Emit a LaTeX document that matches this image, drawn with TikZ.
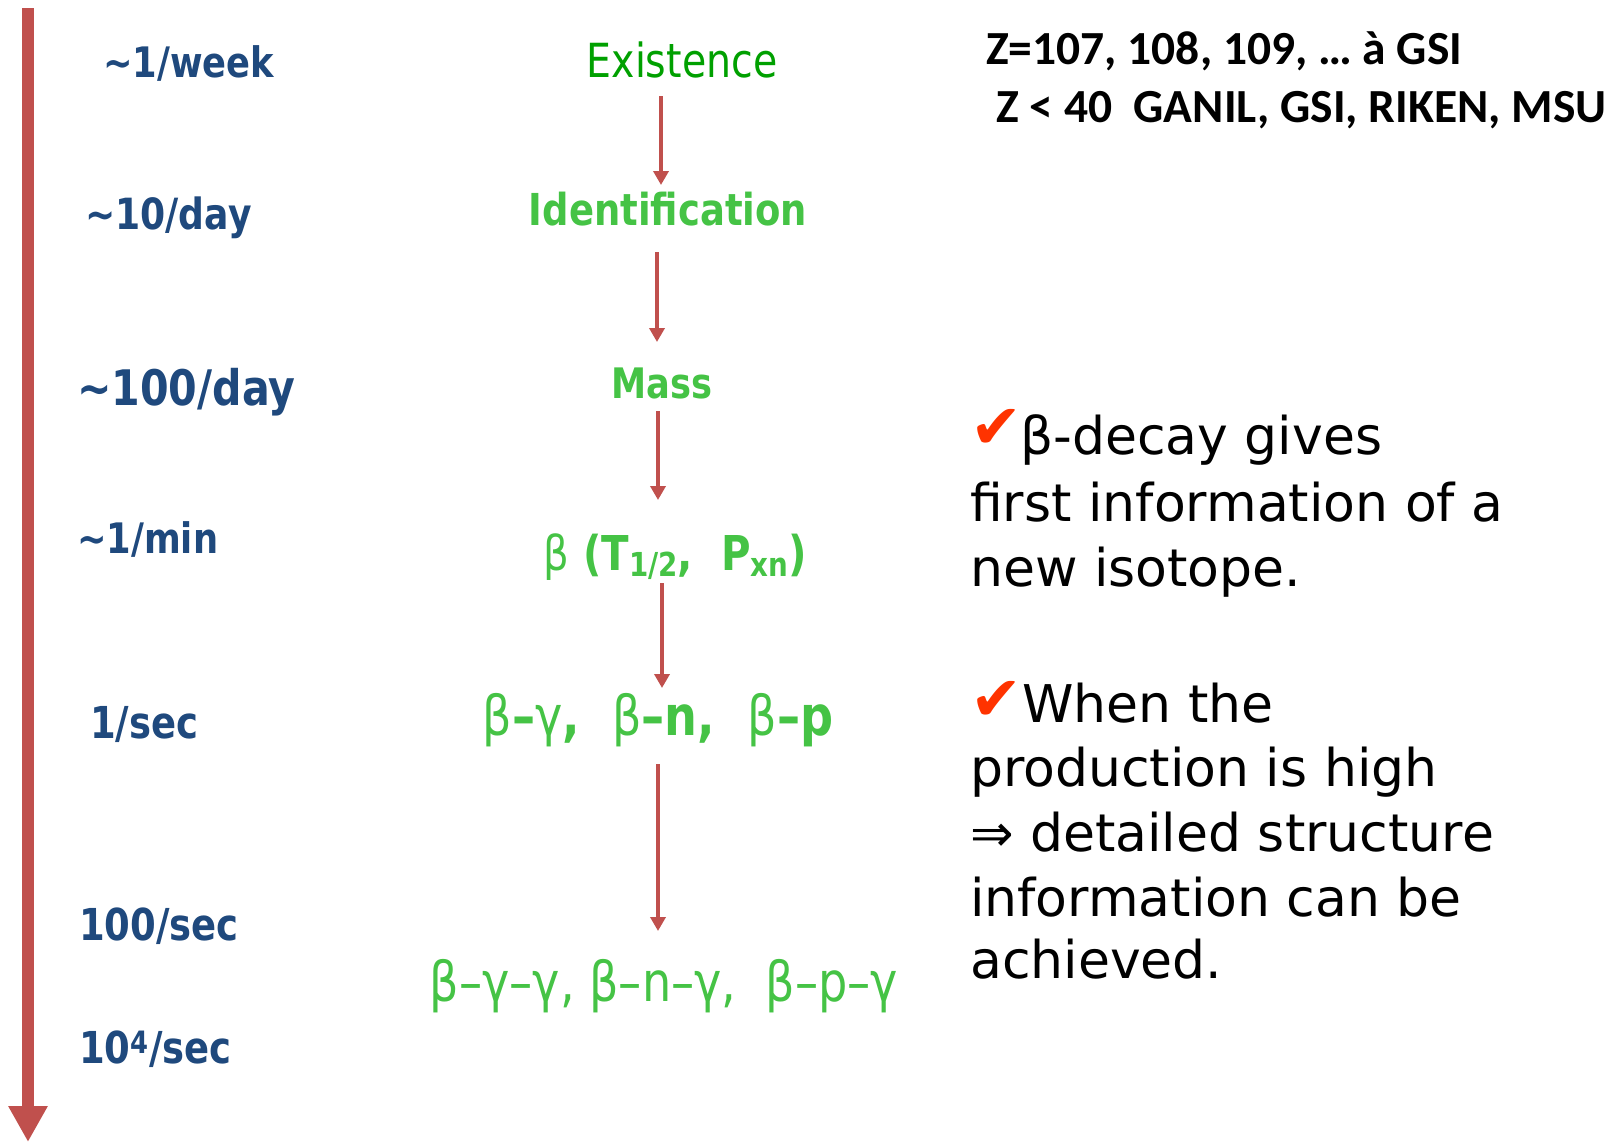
\documentclass[tikz,border=0pt]{standalone}
\usepackage{fontspec}
\usetikzlibrary{arrows.meta}
\newfontfamily\comicfont[FakeStretch=0.84]{DejaVu Sans}
\newfontfamily\comicplain{DejaVu Sans}
\newfontfamily\calib{Carlito}
\definecolor{arrred}{HTML}{C0504D}
\definecolor{lblue}{HTML}{1F497D}
\definecolor{dgreen}{HTML}{00A000}
\definecolor{lgreen}{HTML}{45C345}
\definecolor{chk}{HTML}{FF3300}
\newcommand\mysubs[1]{\raisebox{-0.14em}{\fontsize{33}{33}\selectfont #1}}
\begin{document}
\begin{tikzpicture}[x=1pt,y=-1pt,
  rate/.style={anchor=base west, inner sep=0pt, text=lblue, font=\comicfont\bfseries\fontsize{#1}{#1}\selectfont},
  stage/.style={anchor=base, inner sep=0pt, text=lgreen, font=\comicfont\bfseries\fontsize{#1}{#1}\selectfont},
  stagelight/.style={anchor=base, inner sep=0pt, text=lgreen, font=\comicfont\fontsize{#1}{#1}\selectfont},
  note/.style={anchor=base west, inner sep=0pt, font=\comicplain\fontsize{52}{60}\selectfont},
  tick/.style={anchor=base west, inner sep=0pt, text=chk, font=\comicplain\fontsize{62}{62}\selectfont},
  lab/.style={anchor=base west, inner sep=0pt, font=\calib\bfseries\fontsize{47.5}{47.5}\selectfont},
  flow/.style={draw=arrred, line width=4.5pt, -{Triangle[width=15pt,length=14pt]}}
]
\useasboundingbox (0,0) rectangle (1618,1143);

% time axis
\coordinate (axtop) at (28,8);
\coordinate (axbot) at (28,1142);
\draw[arrred, line width=12pt, -{Triangle[width=37pt,length=36pt]}] (axtop) -- (axbot);

% rates
\node[rate=42] (r1) at (103,77) {\textasciitilde1/week};
\node[rate=43] (r2) at (85,229) {\textasciitilde10/day};
\node[rate=49] (r3) at (77,405) {\textasciitilde100/day};
\node[rate=42] (r4) at (77,553) {\textasciitilde1/min};
\node[rate=44] (r5) at (90,738) {1/sec};
\node[rate=44] (r6) at (79,940) {100/sec};
\node[rate=44] (r7) at (79,1063) {10\textsuperscript{4}/sec};

% stages
\node[stagelight=47, text=dgreen] (s1) at (682,77) {Existence};
\node[stage=44] (s2) at (668,225) {Identification};
\node[stage=42] (s3) at (662,398) {Mass};
\node[stage=48] (s4) at (675,570) {{\mdseries β} (T\mysubs{1/2},\ \ P\mysubs{xn})};
\node[stage=55] (s5) at (658,735) {{\mdseries β}–{\mdseries γ},\ \ {\mdseries β}–n,\ \ {\mdseries β}–p};
\node[stagelight=55] (s6) at (664,1001) {β–γ–γ, β–n–γ,\ \ β–p–γ};

\coordinate (c1) at (661,0);
\coordinate (c2) at (657,0);
\coordinate (c3) at (658,0);
\coordinate (c4) at (662,0);
\coordinate (c5) at (658,0);
\draw[flow, shorten <=19pt, shorten >=40pt] (s1.base -| c1) -- (s2.base -| c1);
\draw[flow, shorten <=27pt, shorten >=56pt] (s2.base -| c2) -- (s3.base -| c2);
\draw[flow, shorten <=13pt, shorten >=70pt] (s3.base -| c3) -- (s4.base -| c3);
\draw[flow, shorten <=13pt, shorten >=47pt] (s4.base -| c4) -- (s5.base -| c4);
\draw[flow, shorten <=29pt, shorten >=70pt] (s5.base -| c5) -- (s6.base -| c5);

% top right
\node[lab] (t1) at (986,64) {Z=107, 108, 109, … à GSI};
\node[lab] (t2) at (996,122) {Z < 40\ \ GANIL, GSI, RIKEN, MSU};

% notes
\node[tick] (k1) at (970,448) {✔};
\node[note] (n1) at (1020,454) {β-decay gives};
\node[note] (n2) at (970,521) {first information of a};
\node[note] (n3) at (970,586) {new isotope.};
\node[tick] (k2) at (970,720) {✔};
\node[note] (n4) at (1022,722) {When the};
\node[note] (n5) at (970,786) {production is high};
\node[note] (n6) at (970,851) {⇒ detailed structure};
\node[note] (n7) at (970,916) {information can be};
\node[note] (n8) at (970,978) {achieved.};
\end{tikzpicture}
\end{document}
